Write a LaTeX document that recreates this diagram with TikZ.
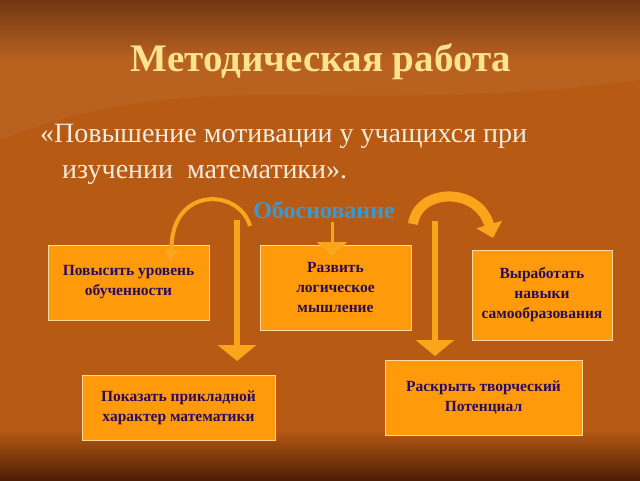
\documentclass[tikz,border=0pt]{standalone}
\usepackage{fontspec}
\setmainfont{Liberation Serif}
\usetikzlibrary{arrows.meta,shadings}
\definecolor{bgmid}{HTML}{B65A14}
\definecolor{bgdark}{HTML}{6A2C06}
\definecolor{bgdeep}{HTML}{4E1E04}
\definecolor{titlecol}{HTML}{FFE38E}
\definecolor{subcol}{HTML}{F8EBDA}
\definecolor{bluecol}{HTML}{3A9AD0}
\definecolor{boxfill}{HTML}{FF9A0A}
\definecolor{boxline}{HTML}{FFD9A0}
\definecolor{boxtext}{HTML}{2A0B5C}
\definecolor{arrcol}{HTML}{FBA51C}
\tikzset{
  goalbox/.style={draw=boxline, line width=1pt, fill=boxfill, inner sep=0pt,
    font=\bfseries\fontsize{15.5}{20}\selectfont, text=boxtext, align=center},
  vert/.style={arrcol, line width=5.5pt, -{Triangle[width=38pt,length=16pt]}},
  smallarr/.style={arrcol, line width=3pt, -{Triangle[width=30pt,length=14pt]}},
  curvl/.style={arrcol, line width=4pt, -{Triangle[width=13pt,length=12pt]}},
  curvr/.style={arrcol, line width=10pt, -{Triangle[width=26pt,length=14pt]}},
}
\begin{document}
\begin{tikzpicture}[x=1pt,y=-1pt]
\useasboundingbox (0,0) rectangle (640,480);
% background
\shade[top color=bgdark, bottom color=bgmid] (0,0) rectangle (640,60);
\fill[bgmid] (0,60) rectangle (640,440);
\shade[top color=bgmid, bottom color=bgdeep] (0,430) rectangle (640,480);
\fill[white, opacity=0.05] (0,140) .. controls (200,60) and (330,120) .. (640,80) -- (640,0) -- (0,0) -- cycle;
% texts
\node[text=titlecol, font=\bfseries\fontsize{39}{44}\selectfont] (title) at (321,62) {Методическая работа};
\node[text=subcol, font=\fontsize{28}{32}\selectfont, anchor=base west, inner sep=0pt] (sub1) at (40,142) {«Повышение мотивации у учащихся при};
\node[text=subcol, font=\fontsize{28}{32}\selectfont, anchor=base west, inner sep=0pt] (sub2) at (62,178) {изучении\ \ математики».};
\node[text=bluecol, font=\bfseries\fontsize{24}{26}\selectfont, inner sep=0pt] (obos) at (324,210) {Обоснование};
% boxes
\node[goalbox, minimum width=161pt, minimum height=75pt] (b1) at (128.5,282.5) {Повысить уровень\\обученности};
\node[goalbox, minimum width=151pt, minimum height=85pt] (b2) at (335.5,287.5) {Развить\\логическое\\ мышление};
\node[goalbox, minimum width=140pt, minimum height=90pt] (b3) at (542,295) {Выработать\\навыки\\самообразования};
\node[goalbox, minimum width=193pt, minimum height=65pt] (b4) at (178.5,407.5) {Показать прикладной\\характер математики};
\node[goalbox, minimum width=197pt, minimum height=75pt] (b5) at (483.5,397.5) {Раскрыть творческий\\Потенциал};
% arrow coordinates
\coordinate (v1s) at (237,220);
\coordinate (v1e) at (237,361);
\coordinate (v2s) at (435,221);
\coordinate (v2e) at (435,356);
\coordinate (cs) at (332,222);
\coordinate (ce) at (332,256);
\coordinate (l1s) at (250,226);
\coordinate (l1e) at (170,262);
\coordinate (r1s) at (413,224);
\coordinate (r1e) at (493,238);
% arrows
\draw[vert] (v1s) -- (v1e);
\draw[vert] (v2s) -- (v2e);
\draw[smallarr] (cs) -- (ce);
\draw[curvl] (l1s) .. controls (240,190) and (178,186) .. (172,240) -- (l1e);
\draw[curvr] (r1s) .. controls (418,188) and (478,186) .. (r1e);
\end{tikzpicture}
\end{document}
